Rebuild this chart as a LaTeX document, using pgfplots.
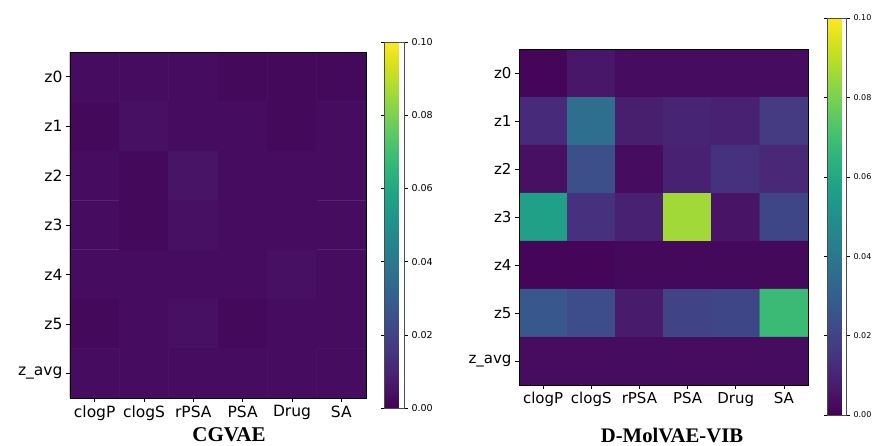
\documentclass[border=0pt]{standalone}
\usepackage{fontspec}
\setmainfont{DejaVu Sans}
\newfontfamily\timesb{Liberation Serif}
\usepackage{pgfplots}
\pgfplotsset{compat=1.18}
\pgfplotsset{
  hm/.style={
    scale only axis, anchor=south west,
    colormap/viridis, point meta min=0, point meta max=0.1,
    xmin=-0.5, xmax=5.5, ymin=-0.5, ymax=6.5, y dir=reverse,
    xtick={0,...,5}, ytick={0,...,6},
    xticklabels={clogP,clogS,rPSA,PSA,Drug,SA},
    yticklabels={z0,z1,z2,z3,z4,z5,z\_avg},
    tick align=outside, major tick length=4pt,
    xtick pos=bottom, ytick pos=left,
    tick style={black, line width=0.6pt},
    axis line style={black, line width=0.6pt},
    axis on top,
    colorbar,
  },
  cbs/.style={
    scale only axis,
    at={(parent axis.north east)}, anchor=north west,
    ytick={0,0.02,0.04,0.06,0.08,0.1},
    yticklabel pos=right,
    yticklabel style={
      /pgf/number format/fixed, /pgf/number format/fixed zerofill,
      /pgf/number format/precision=2, /pgf/number format/assume math mode=true},
    tick align=outside, major tick length=3.5pt,
    tick style={black, line width=0.5pt},
    axis line style={gray!60!black, line width=0.6pt},
  },
}
\begin{document}
\begin{tikzpicture}[x=1pt,y=1pt]
\useasboundingbox (0,0) rectangle (874,445);
\begin{axis}[hm, at={(70pt,47pt)}, width=296pt, height=346pt,
  ticklabel style={font=\fontsize{15.5}{18}\selectfont},
  colorbar style={cbs, xshift=10pt, yshift=10pt, width=20pt, height=366pt,
    yticklabel style={font=\fontsize{9.5}{11}\selectfont}}]
\addplot[matrix plot*, mesh/cols=6, point meta=explicit] table[meta=c] {
x y c
0 0 0.003
1 0 0.003
2 0 0.003
3 0 0.002
4 0 0.002
5 0 0.002
0 1 0.002
1 1 0.004
2 1 0.003
3 1 0.003
4 1 0.002
5 1 0.003
0 2 0.003
1 2 0.002
2 2 0.005
3 2 0.003
4 2 0.003
5 2 0.003
0 3 0.003
1 3 0.002
2 3 0.004
3 3 0.003
4 3 0.003
5 3 0.003
0 4 0.003
1 4 0.003
2 4 0.003
3 4 0.003
4 4 0.004
5 4 0.003
0 5 0.002
1 5 0.003
2 5 0.004
3 5 0.002
4 5 0.003
5 5 0.003
0 6 0.003
1 6 0.003
2 6 0.003
3 6 0.003
4 6 0.003
5 6 0.003
};
\end{axis}
\begin{axis}[hm, at={(519pt,60pt)}, width=289pt, height=336pt,
  ticklabel style={font=\fontsize{15}{18}\selectfont},
  colorbar style={cbs, xshift=11pt, yshift=31pt, width=19pt, height=397pt,
    yticklabel style={font=\fontsize{8}{10}\selectfont}}]
\addplot[matrix plot*, mesh/cols=6, point meta=explicit] table[meta=c] {
x y c
0 0 0.001
1 0 0.006
2 0 0.003
3 0 0.003
4 0 0.003
5 0 0.003
0 1 0.012
1 1 0.036
2 1 0.008
3 1 0.010
4 1 0.009
5 1 0.017
0 2 0.004
1 2 0.024
2 2 0.003
3 2 0.009
4 2 0.014
5 2 0.011
0 3 0.057
1 3 0.014
2 3 0.009
3 3 0.086
4 3 0.005
5 3 0.021
0 4 0.001
1 4 0.001
2 4 0.002
3 4 0.002
4 4 0.002
5 4 0.002
0 5 0.027
1 5 0.023
2 5 0.007
3 5 0.020
4 5 0.021
5 5 0.068
0 6 0.003
1 6 0.003
2 6 0.003
3 6 0.003
4 6 0.003
5 6 0.003
};
\end{axis}
\node[font=\timesb\bfseries\fontsize{21}{24}\selectfont] at (229,10) {CGVAE};
\node[font=\timesb\bfseries\fontsize{20.7}{24}\selectfont] at (672,10) {D-MolVAE-VIB};
\end{tikzpicture}
\end{document}
